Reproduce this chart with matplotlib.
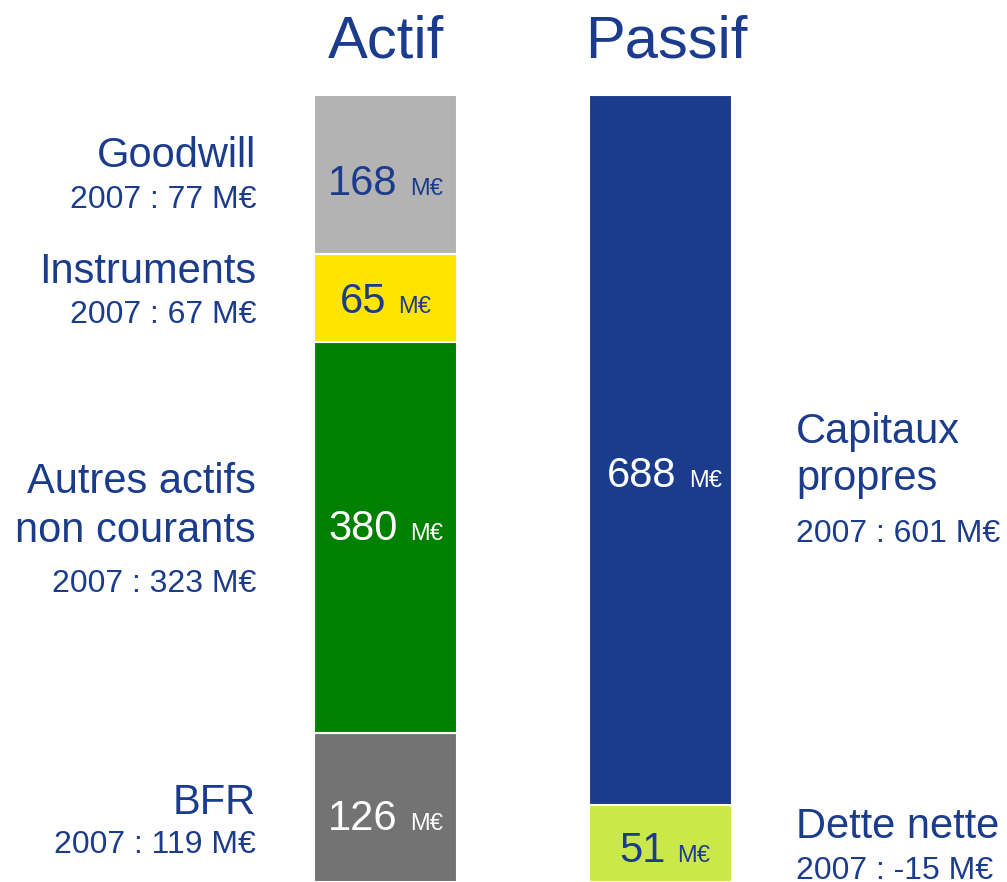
##Bilan : Actif / Passif en barres empilees
import matplotlib.pyplot as plt

plt.rcParams['font.family'] = ['Liberation Sans', 'DejaVu Sans']

##Donnees
#actif (du bas vers le haut)
actif_noms = ['BFR', 'Autres actifs\nnon courants', 'Instruments', 'Goodwill']
actif_valeurs = [126, 380, 65, 168]          # M€ (etiquettes)
actif_2007 = [119, 323, 67, 77]
actif_hauteurs = [149, 391, 88, 159]         # hauteurs affichees

#passif (du bas vers le haut)
passif_noms = ['Dette nette', 'Capitaux\npropres']
passif_valeurs = [51, 688]
passif_2007 = [-15, 601]
passif_hauteurs = [77, 710]

##Styles
BLEU = '#1b3c8c'
actif_couleurs = ['#737373', '#008000', '#ffe500', '#b3b3b3']
actif_txt = ['white', 'white', BLEU, BLEU]
passif_couleurs = ['#cbe84a', '#1b3c8c']
passif_txt = [BLEU, 'white']

#positions des colonnes (en pixels, axes = figure entiere)
X_ACTIF = 385.5
X_PASSIF = 660.5
LARG = 143

#baselines des libelles (px depuis le haut) : [nom lignes...], annee
lab_actif = [([814], 853), ([493, 542], 592), ([283], 323), ([167], 208)]
lab_passif = [([838], 879), ([443, 490], 542)]
#baselines des valeurs dans les barres
val_actif = [830, 540, 313, 195]
val_passif = [862, 487]

H = 882
fig = plt.figure(figsize=(10.07, 8.82), dpi=100)
ax = fig.add_axes([0, 0, 1, 1])
ax.set_xlim(0, 1007)
ax.set_ylim(0, H)
ax.axis('off')
renderer = fig.canvas.get_renderer()


def colonne(x, hauteurs, couleurs):
    bas = 0
    for h, c in zip(hauteurs, couleurs):
        ax.bar(x, h, width=LARG, bottom=bas, color=c, edgecolor='white', linewidth=1.5)
        bas += h


def valeur(x, y_px, v, couleur):
    #nombre + "M€" plus petit, groupe centre sur la colonne
    t1 = ax.text(0, H - y_px, str(v), ha='left', va='baseline', fontsize=30, color=couleur)
    t2 = ax.text(0, H - y_px, 'M€', ha='left', va='baseline', fontsize=17, color=couleur)
    w1 = t1.get_window_extent(renderer).width
    w2 = t2.get_window_extent(renderer).width
    gap = 12
    x0 = x - (w1 + gap + w2) / 2
    t1.set_x(x0)
    t2.set_x(x0 + w1 + gap)


colonne(X_ACTIF, actif_hauteurs, actif_couleurs)
colonne(X_PASSIF, passif_hauteurs, passif_couleurs)

for v, y, c in zip(actif_valeurs, val_actif, actif_txt):
    valeur(X_ACTIF, y, v, c)
for v, y, c in zip(passif_valeurs, val_passif, passif_txt):
    valeur(X_PASSIF + 4, y, v, c)

#libelles a gauche
for nom, an, (lignes, y_an) in zip(actif_noms, actif_2007, lab_actif):
    for s, y in zip(nom.split('\n'), lignes):
        ax.text(256, H - y, s, ha='right', va='baseline', fontsize=30, color=BLEU)
    ax.text(256, H - y_an, '2007 : %d M€' % an, ha='right', va='baseline',
            fontsize=23, color=BLEU)

#libelles a droite
for nom, an, (lignes, y_an) in zip(passif_noms, passif_2007, lab_passif):
    for s, y in zip(nom.split('\n'), lignes):
        ax.text(796, H - y, s, ha='left', va='baseline', fontsize=30, color=BLEU)
    ax.text(796, H - y_an, '2007 : %d M€' % an, ha='left', va='baseline',
            fontsize=23, color=BLEU)

#titres
ax.text(X_ACTIF, H - 58, 'Actif', ha='center', va='baseline', fontsize=43, color=BLEU)
ax.text(666, H - 58, 'Passif', ha='center', va='baseline', fontsize=43, color=BLEU)

plt.savefig('out.png', dpi=100)
